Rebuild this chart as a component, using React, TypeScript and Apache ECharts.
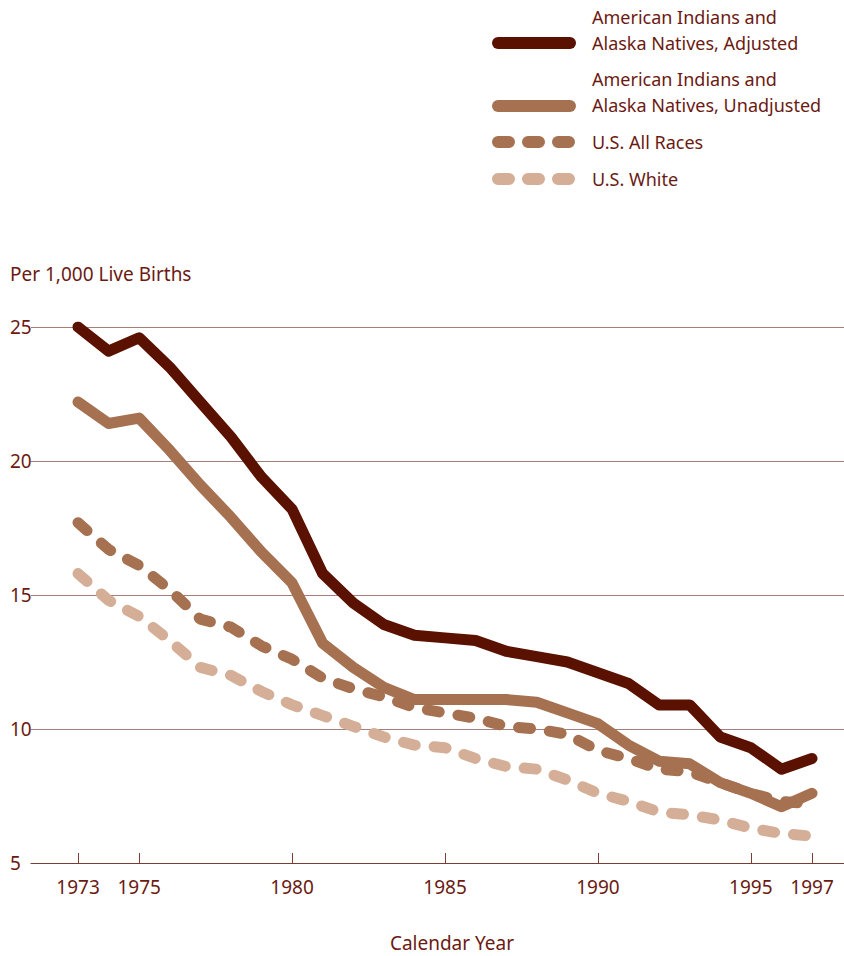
import React, { useEffect, useRef } from "react";
import * as echarts from "echarts";

const years = [1973,1974,1975,1976,1977,1978,1979,1980,1981,1982,1983,1984,1985,1986,1987,1988,1989,1990,1991,1992,1993,1994,1995,1996,1997];
const aianAdjusted = [25.0,24.1,24.6,23.5,22.2,20.9,19.4,18.2,15.8,14.7,13.9,13.5,13.4,13.3,12.9,12.7,12.5,12.1,11.7,10.9,10.9,9.7,9.3,8.5,8.9];
const aianUnadjusted = [22.2,21.4,21.6,20.4,19.1,17.9,16.6,15.45,13.2,12.3,11.55,11.1,11.1,11.1,11.1,11.0,10.6,10.2,9.4,8.8,8.7,8.0,7.6,7.1,7.6];
const usAllRaces = [17.7,16.7,16.1,15.2,14.1,13.8,13.1,12.6,11.9,11.5,11.2,10.8,10.6,10.4,10.1,10.0,9.8,9.2,8.9,8.5,8.4,8.0,7.6,7.3,7.2];
const usWhite = [15.8,14.8,14.2,13.3,12.3,12.0,11.4,10.9,10.5,10.1,9.7,9.4,9.3,8.9,8.6,8.5,8.1,7.6,7.3,6.9,6.8,6.6,6.3,6.1,6.0];
const labelYears = [1973,1975,1980,1985,1990,1995,1997];
const seriesNames = [
  "American Indians and\nAlaska Natives, Adjusted",
  "American Indians and\nAlaska Natives, Unadjusted",
  "U.S. All Races",
  "U.S. White",
];

const TEXT = "#6b1a12";
const C_DARK = "#5a1100";
const C_MED = "#a57151";
const C_LIGHT = "#d4ae96";
const FONT = "'Noto Sans', sans-serif";

export default function App() {
  const ref = useRef<HTMLDivElement>(null);
  useEffect(() => {
    if (!ref.current) return;
    const chart = echarts.init(ref.current, undefined, { renderer: "svg" });
    const pair = (arr: number[]) => years.map((y, i) => [y, arr[i]]);
    const lineSeries = (name: string, data: number[], color: string, dashed: boolean, z: number) => ({
      type: "line",
      name,
      data: pair(data),
      showSymbol: false,
      symbol: "none",
      z,
      lineStyle: {
        color,
        width: 11,
        type: dashed ? [12, 19] : "solid",
        cap: "round",
        join: "round",
      },
    });
    const legendItems = [
      { name: seriesNames[0], color: C_DARK, dashed: false, y: 43, textY: 30 },
      { name: seriesNames[1], color: C_MED, dashed: false, y: 106, textY: 92 },
      { name: seriesNames[2], color: C_MED, dashed: true, y: 142, textY: 142 },
      { name: seriesNames[3], color: C_LIGHT, dashed: true, y: 179, textY: 179 },
    ];
    const graphics: any[] = [];
    legendItems.forEach((it) => {
      graphics.push({
        type: "line",
        shape: { x1: 498, y1: it.y, x2: 570, y2: it.y },
        style: {
          stroke: it.color,
          lineWidth: 12,
          lineCap: "round",
          lineDash: it.dashed ? [11, 19] : null,
        },
      });
      graphics.push({
        type: "text",
        x: 592,
        y: it.textY,
        style: {
          text: it.name,
          fill: TEXT,
          font: `18px ${FONT}`,
          lineHeight: 26,
          verticalAlign: "middle",
        },
      });
    });
    graphics.push({
      type: "text",
      x: 10,
      y: 274,
      style: { text: "Per 1,000 Live Births", fill: TEXT, font: `19px ${FONT}`, verticalAlign: "middle" },
    });
    graphics.push({
      type: "text",
      x: 452,
      y: 943,
      style: { text: "Calendar Year", fill: TEXT, font: `19px ${FONT}`, align: "center", verticalAlign: "middle" },
    });

    chart.setOption({
      animation: false,
      backgroundColor: "#ffffff",
      grid: { left: 31, right: 0, top: 327, bottom: 93, containLabel: false },
      xAxis: {
        type: "value",
        min: 1971.463,
        max: 1998.046,
        axisLine: { show: true, lineStyle: { color: "#7a3d33", width: 1.2 } },
        axisTick: { show: true, inside: true, length: 10, customValues: labelYears, lineStyle: { color: "#7a3d33" } },
        axisLabel: {
          customValues: labelYears,
          color: TEXT,
          fontFamily: FONT,
          fontSize: 19,
          margin: 14,
          formatter: (v: number) => String(Math.round(v)),
        },
        splitLine: { show: false },
      },
      yAxis: {
        type: "value",
        min: 5,
        max: 25,
        interval: 5,
        axisLine: { show: false },
        axisTick: { show: false },
        axisLabel: { color: TEXT, fontFamily: FONT, fontSize: 19, align: "left", margin: 21 },
        splitLine: { show: true, lineStyle: { color: "#a47f78", width: 1.2 } },
      },
      graphic: graphics,
      series: [
        lineSeries(seriesNames[3], usWhite, C_LIGHT, true, 1),
        lineSeries(seriesNames[2], usAllRaces, C_MED, true, 2),
        lineSeries(seriesNames[1], aianUnadjusted, C_MED, false, 3),
        lineSeries(seriesNames[0], aianAdjusted, C_DARK, false, 4),
      ],
    });
    return () => chart.dispose();
  }, []);
  return (
    <div
      ref={ref}
      style={{ position: "absolute", left: 0, top: 0, width: 844, height: 956 }}
    />
  );
}
